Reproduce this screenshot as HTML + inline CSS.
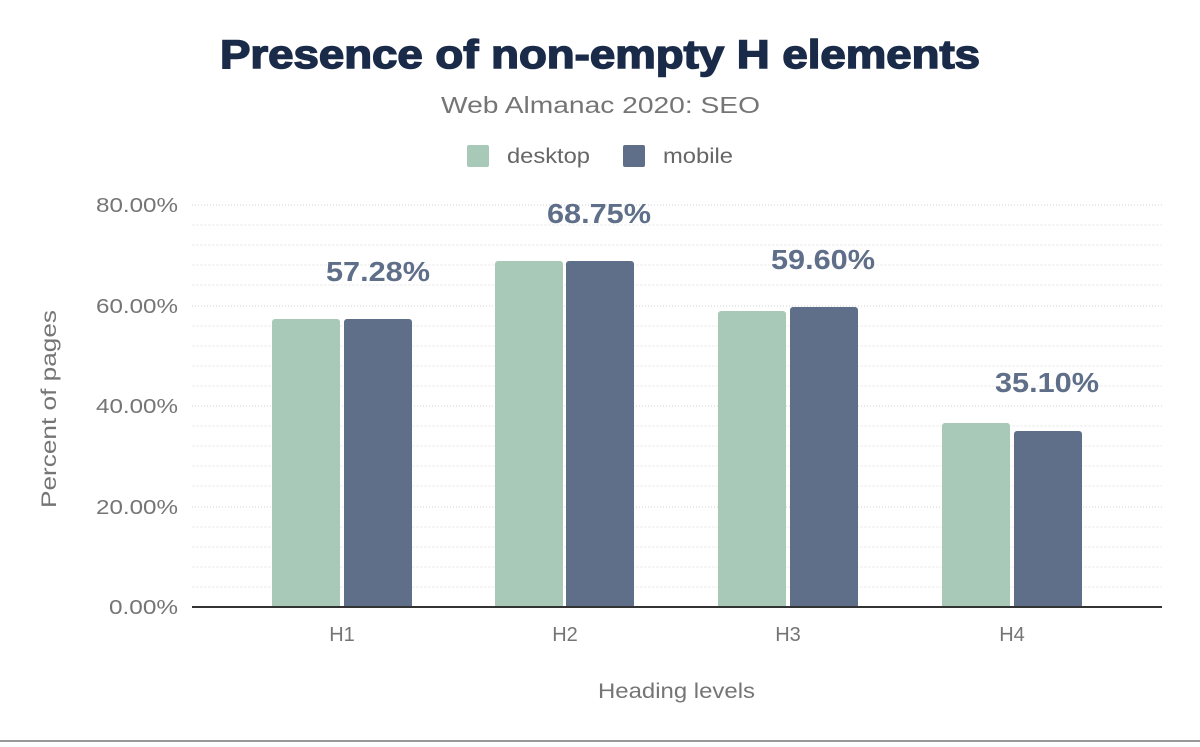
<!DOCTYPE html>
<html><head><style>body{margin:0;background:#fff}</style></head><body>
<svg width="1200" height="742" xmlns="http://www.w3.org/2000/svg" font-family="Liberation Sans, sans-serif">
<rect width="1200" height="742" fill="#fff"/>
<text x="220" y="68" textLength="760" lengthAdjust="spacingAndGlyphs" font-size="40" font-weight="900" fill="#1a2b49" stroke="#1a2b49" stroke-width="1.5">Presence of non-empty H elements</text>
<text x="441" y="113" textLength="319" lengthAdjust="spacingAndGlyphs" font-size="23" fill="#757575">Web Almanac 2020: SEO</text>
<rect x="467" y="145" width="22" height="22" rx="2" fill="#a8c9b8"/>
<text x="507" y="163" textLength="83" lengthAdjust="spacingAndGlyphs" font-size="21" fill="#666">desktop</text>
<rect x="623" y="145" width="22" height="22" rx="2" fill="#5f6f89"/>
<text x="663" y="163" textLength="70" lengthAdjust="spacingAndGlyphs" font-size="21" fill="#666">mobile</text>
<g stroke="#eeeeee" stroke-width="1" stroke-dasharray="3,1">
<line x1="192" x2="1162" y1="587" y2="587"/><line x1="192" x2="1162" y1="567" y2="567"/><line x1="192" x2="1162" y1="547" y2="547"/><line x1="192" x2="1162" y1="527" y2="527"/>
<line x1="192" x2="1162" y1="486" y2="486"/><line x1="192" x2="1162" y1="466" y2="466"/><line x1="192" x2="1162" y1="446" y2="446"/><line x1="192" x2="1162" y1="426" y2="426"/>
<line x1="192" x2="1162" y1="386" y2="386"/><line x1="192" x2="1162" y1="366" y2="366"/><line x1="192" x2="1162" y1="346" y2="346"/><line x1="192" x2="1162" y1="326" y2="326"/>
<line x1="192" x2="1162" y1="285" y2="285"/><line x1="192" x2="1162" y1="265" y2="265"/><line x1="192" x2="1162" y1="245" y2="245"/><line x1="192" x2="1162" y1="225" y2="225"/>
</g>
<g stroke="#d0d0d0" stroke-width="1" stroke-dasharray="1,2">
<line x1="192" x2="1162" y1="507" y2="507"/><line x1="192" x2="1162" y1="406" y2="406"/><line x1="192" x2="1162" y1="306" y2="306"/><line x1="192" x2="1162" y1="205" y2="205"/>
</g>
<g font-size="20" fill="#757575" text-anchor="end">
<text x="178" y="614" textLength="69" lengthAdjust="spacingAndGlyphs">0.00%</text>
<text x="178" y="514" textLength="82" lengthAdjust="spacingAndGlyphs">20.00%</text>
<text x="178" y="413" textLength="82" lengthAdjust="spacingAndGlyphs">40.00%</text>
<text x="178" y="313" textLength="82" lengthAdjust="spacingAndGlyphs">60.00%</text>
<text x="178" y="212" textLength="82" lengthAdjust="spacingAndGlyphs">80.00%</text>
</g>
<text transform="translate(56,409) rotate(-90)" x="-99" textLength="198" lengthAdjust="spacingAndGlyphs" font-size="21" fill="#757575">Percent of pages</text>
<g fill="#a8c9b8">
<path d="M272,606 V322 a3,3 0 0 1 3,-3 H337 a3,3 0 0 1 3,3 V606Z"/>
<path d="M495,606 V264 a3,3 0 0 1 3,-3 H560 a3,3 0 0 1 3,3 V606Z"/>
<path d="M718,606 V314 a3,3 0 0 1 3,-3 H783 a3,3 0 0 1 3,3 V606Z"/>
<path d="M942,606 V426 a3,3 0 0 1 3,-3 H1007 a3,3 0 0 1 3,3 V606Z"/>
</g>
<g fill="#5f6f89">
<path d="M344,606 V322 a3,3 0 0 1 3,-3 H409 a3,3 0 0 1 3,3 V606Z"/>
<path d="M566,606 V264 a3,3 0 0 1 3,-3 H631 a3,3 0 0 1 3,3 V606Z"/>
<path d="M790,606 V310 a3,3 0 0 1 3,-3 H855 a3,3 0 0 1 3,3 V606Z"/>
<path d="M1014,606 V434 a3,3 0 0 1 3,-3 H1079 a3,3 0 0 1 3,3 V606Z"/>
</g>
<rect x="192" y="606" width="970" height="2" fill="#333"/>
<g font-size="28" font-weight="bold" fill="#5f6f89">
<text x="326" y="281" textLength="104" lengthAdjust="spacingAndGlyphs">57.28%</text>
<text x="547" y="223" textLength="104" lengthAdjust="spacingAndGlyphs">68.75%</text>
<text x="771" y="269" textLength="104" lengthAdjust="spacingAndGlyphs">59.60%</text>
<text x="995" y="392" textLength="104" lengthAdjust="spacingAndGlyphs">35.10%</text>
</g>
<g font-size="20" fill="#757575" text-anchor="middle">
<text x="342" y="641">H1</text><text x="565" y="641">H2</text><text x="788" y="641">H3</text><text x="1012" y="641">H4</text>
</g>
<text x="598" y="698" textLength="157" lengthAdjust="spacingAndGlyphs" font-size="21" fill="#757575">Heading levels</text>
<rect x="0" y="740" width="1200" height="2" fill="#999"/>
</svg>
</body></html>
